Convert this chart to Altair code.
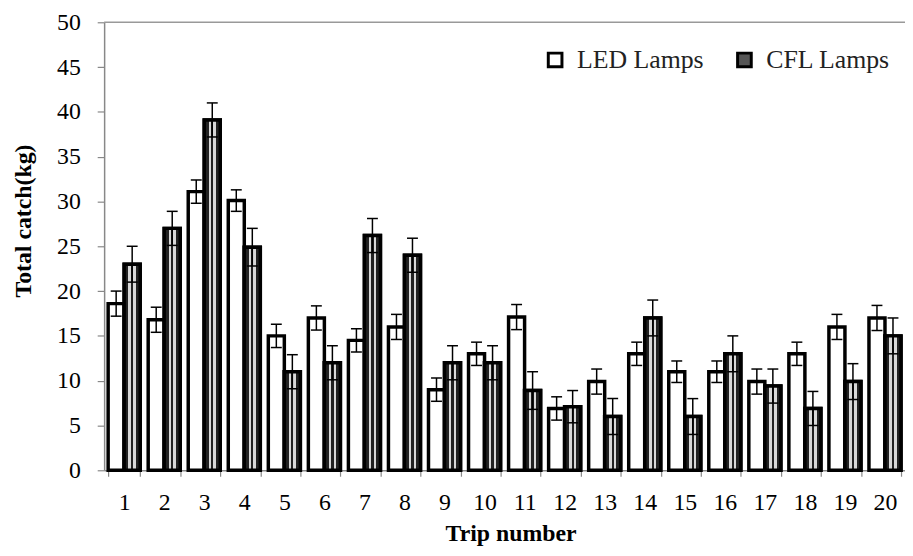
import altair as alt
import pandas as pd

trips = [str(i) for i in range(1, 21)]
lamps = ["LED Lamps", "CFL Lamps"]
led = [18.6, 16.8, 31.1, 30.1, 15.0, 17.0, 14.5, 16.0, 9.0, 13.0,
       17.1, 6.9, 9.9, 13.0, 11.0, 11.0, 9.9, 13.0, 16.0, 17.0]
led_err = [1.4, 1.4, 1.3, 1.2, 1.3, 1.35, 1.3, 1.4, 1.3, 1.3,
           1.4, 1.3, 1.4, 1.3, 1.2, 1.2, 1.4, 1.3, 1.4, 1.4]
cfl = [23.0, 27.0, 39.1, 24.9, 11.0, 12.0, 26.2, 24.0, 12.0, 12.0,
       8.9, 7.1, 6.0, 17.0, 6.0, 13.0, 9.4, 6.9, 9.9, 15.0]
cfl_err = [2.0, 1.9, 1.9, 2.1, 1.9, 1.9, 1.9, 1.9, 1.9, 1.9,
           2.1, 1.8, 2.0, 2.0, 2.0, 2.0, 1.9, 1.9, 2.0, 2.0]
y_ticks = [0, 5, 10, 15, 20, 25, 30, 35, 40, 45, 50]

rows = []
for i, t in enumerate(trips):
    rows.append(dict(trip=t, lamp=lamps[0], value=led[i], err=led_err[i]))
    rows.append(dict(trip=t, lamp=lamps[1], value=cfl[i], err=cfl_err[i]))
df = pd.DataFrame(rows)
df["lo"] = df["value"] - df["err"]
df["hi"] = df["value"] + df["err"]

FONT = "Liberation Serif"

xaxis = alt.Axis(title="Trip number", labelAngle=0, tickBand="extent",
                 domainColor="#888888", domainWidth=1.5, tickColor="#888888",
                 tickSize=6, tickWidth=1.2, labelFont=FONT, labelFontSize=24,
                 labelColor="black", labelPadding=15, titleFont=FONT,
                 titleFontSize=24, titleFontWeight="bold", titleColor="black",
                 titleX=410, titleY=71, titleBaseline="alphabetic")
yaxis = alt.Axis(title="Total catch(kg)", values=y_ticks, grid=False,
                 domainColor="#888888", domainWidth=1.5, tickColor="#888888",
                 tickSize=7, tickWidth=1.2, labelFont=FONT, labelFontSize=24,
                 labelColor="black", labelPadding=17, titleFont=FONT,
                 titleFontSize=24, titleFontWeight="bold", titleColor="black",
                 titleX=-74, titleY=200, titleAngle=270, titleBaseline="alphabetic")

xscale = alt.Scale(paddingInner=0.2, paddingOuter=0.1)
yscale = alt.Scale(domain=[0, 50], nice=False)
xenc = alt.X("trip:N", sort=trips, scale=xscale, axis=xaxis)
xoenc = alt.XOffset("lamp:N", sort=lamps,
                    scale=alt.Scale(domain=lamps, paddingInner=0, paddingOuter=0))

base = alt.Chart(df)

bars = base.mark_bar(stroke="black", strokeWidth=3.5).encode(
    x=xenc, xOffset=xoenc,
    y=alt.Y("value:Q", scale=yscale, axis=yaxis),
    fill=alt.Fill("lamp:N", sort=lamps,
                  scale=alt.Scale(domain=lamps, range=["white", "#555555"]),
                  legend=alt.Legend(title=None, orient="none", legendX=442, legendY=25,
                                    direction="horizontal", symbolType="square",
                                    symbolSize=190, symbolStrokeWidth=3,
                                    symbolStrokeColor="black", labelFont=FONT,
                                    labelFontSize=26, labelColor="#222222",
                                    labelOffset=9, columnPadding=28, padding=0)),
)

gradient = alt.LinearGradient(
    gradient="linear", x1=0, x2=1, y1=0, y2=0,
    stops=[
        alt.GradientStop(color="#222222", offset=0),
        alt.GradientStop(color="#222222", offset=0.27),
        alt.GradientStop(color="#d8d8d8", offset=0.27),
        alt.GradientStop(color="#d8d8d8", offset=0.43),
        alt.GradientStop(color="#222222", offset=0.43),
        alt.GradientStop(color="#222222", offset=0.57),
        alt.GradientStop(color="#d8d8d8", offset=0.57),
        alt.GradientStop(color="#d8d8d8", offset=0.73),
        alt.GradientStop(color="#222222", offset=0.73),
        alt.GradientStop(color="#222222", offset=1),
    ],
)

cfl_bars = base.transform_filter(alt.datum.lamp == lamps[1]).mark_bar(
    fill=gradient, stroke="black", strokeWidth=3.5
).encode(
    x=xenc, xOffset=xoenc,
    y=alt.Y("value:Q", scale=yscale, axis=yaxis),
)

err_rule = base.mark_rule(color="black", strokeWidth=1.5).encode(
    x=xenc, xOffset=xoenc,
    y=alt.Y("lo:Q", scale=yscale, axis=yaxis), y2="hi:Q",
)
err_hi = base.mark_tick(color="black", thickness=1.5, size=11, opacity=1).encode(
    x=xenc, xOffset=xoenc, y=alt.Y("hi:Q", scale=yscale, axis=yaxis),
)
err_lo = base.mark_tick(color="black", thickness=1.5, size=11, opacity=1).encode(
    x=xenc, xOffset=xoenc, y=alt.Y("lo:Q", scale=yscale, axis=yaxis),
)

top_border = alt.Chart(pd.DataFrame({"v": [50]})).mark_rule(
    color="#999999", strokeWidth=1.5
).encode(y=alt.Y("v:Q", scale=yscale, axis=yaxis))

chart = alt.layer(bars, cfl_bars, err_rule, err_hi, err_lo, top_border).properties(
    width=808, height=452,
    autosize=alt.AutoSizeParams(type="none"),
    padding={"left": 97, "top": 12, "right": 0, "bottom": 76},
    background="white",
).configure_view(stroke=None)

chart.save("out.html", embed_options={"renderer": "svg", "actions": False})
